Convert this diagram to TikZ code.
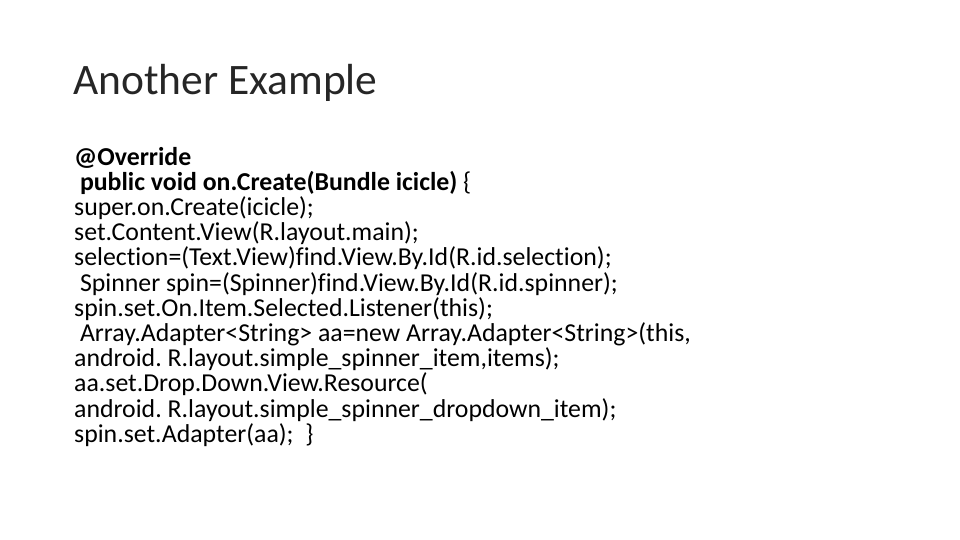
\documentclass[tikz,border=0pt]{standalone}
\usepackage{fontspec}
\setmainfont{Carlito}[Ligatures={NoCommon}]
\frenchspacing
\begin{document}
\begin{tikzpicture}[x=1pt,y=-1pt,
  title/.style={anchor=base west,inner sep=0pt,font=\fontsize{43.5}{50}\selectfont,text=black!85},
  code/.style={anchor=base west,inner sep=0pt,font=\fontsize{25.8}{30}\selectfont}]
\useasboundingbox (0,0) rectangle (960,540);
\node[title] (t) at (73,95) {Another Example};
\node[code] (l1) at (74,165) {\textbf{@Override}};
\node[code] (l2) at (74,190.2) {\ \textbf{public void on.Create(Bundle icicle)} \{};
\node[code] (l3) at (74,215.4) {super.on.Create(icicle);};
\node[code] (l4) at (74,240.6) {set.Content.View(R.layout.main);};
\node[code] (l5) at (74,265.8) {selection=(Text.View)find.View.By.Id(R.id.selection);};
\node[code] (l6) at (74,291) {\ Spinner spin=(Spinner)find.View.By.Id(R.id.spinner);};
\node[code] (l7) at (74,316.2) {spin.set.On.Item.Selected.Listener(this);};
\node[code] (l8) at (74,341.4) {\ Array.Adapter<String> aa=new Array.Adapter<String>(this,};
\node[code] (l9) at (74,366.6) {android. R.layout.simple\_spinner\_item,items);};
\node[code] (l10) at (74,391.8) {aa.set.Drop.Down.View.Resource(};
\node[code] (l11) at (74,417) {android. R.layout.simple\_spinner\_dropdown\_item);};
\node[code] (l12) at (74,442.2) {spin.set.Adapter(aa); \ \}};
\end{tikzpicture}
\end{document}
